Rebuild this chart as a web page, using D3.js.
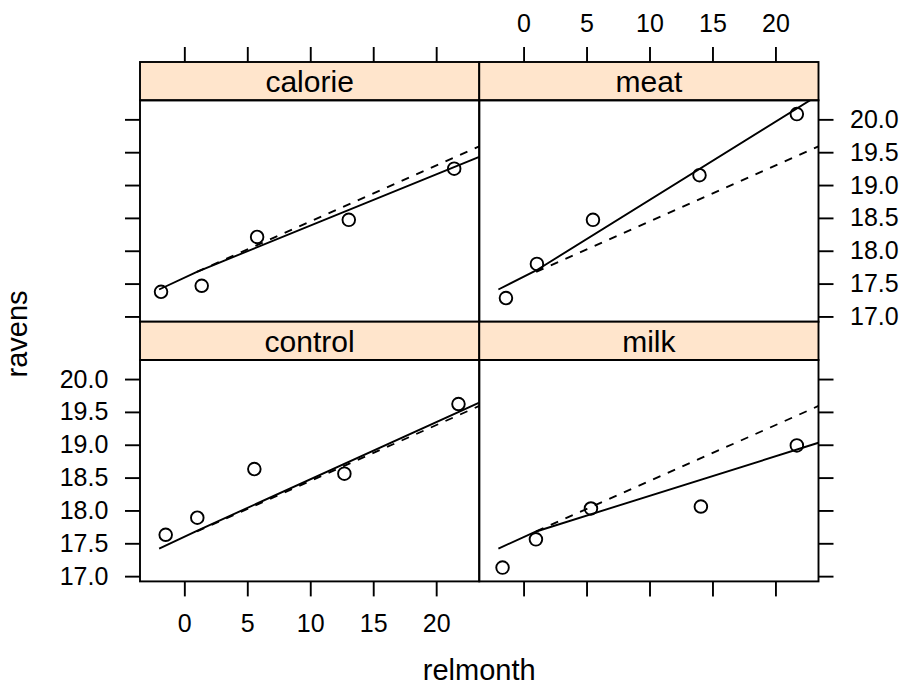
<!DOCTYPE html>
<html>
<head>
<meta charset="utf-8">
<script src="https://cdn.jsdelivr.net/npm/d3@7"></script>
<style>
  html, body { margin: 0; padding: 0; background: #fff; }
  svg text { font-family: "Liberation Sans", Arial, Helvetica, sans-serif; fill: #000; }
</style>
</head>
<body>
<svg id="chart" width="903" height="687"></svg>
<script>
// ---- data ----
const panelNames = ["calorie", "meat", "control", "milk"];
const xCalorie = [-1.85, 1.38, 5.78, 13.06, 21.43];
const yCalorie = [17.375, 17.467, 18.21, 18.47, 19.25];
const xMeat = [-1.40, 1.06, 5.51, 13.97, 21.70];
const yMeat = [17.28, 17.80, 18.47, 19.15, 20.08];
const xControl = [-1.48, 1.03, 5.56, 12.71, 21.77];
const yControl = [17.63, 17.89, 18.63, 18.56, 19.62];
const xMilk = [-1.67, 0.98, 5.35, 14.08, 21.70];
const yMilk = [17.13, 17.56, 18.03, 18.06, 18.99];

// fitted (solid) lines, knots in relmonth
const fitX = [-2.0, 1.0, 23.42];
const fitCalorie = [17.41, 17.68, 19.43];
const fitMeat = [17.41, 17.70, 20.37];
const fitControl = [17.42, 17.69, 19.64];
const fitMilk = [17.42, 17.68, 19.03];

// common reference (dashed) line
const refX = [1.0, 23.42];
const refY = [17.68, 19.59];

const xTicks = [0, 5, 10, 15, 20];
const yTicks = [17.0, 17.5, 18.0, 18.5, 19.0, 19.5, 20.0];
const xDomain = [-3.52, 23.42];
const yDomain = [16.92, 20.29];

const series = {
  calorie: { x: xCalorie, y: yCalorie, fit: fitCalorie },
  meat: { x: xMeat, y: yMeat, fit: fitMeat },
  control: { x: xControl, y: yControl, fit: fitControl },
  milk: { x: xMilk, y: yMilk, fit: fitMilk }
};

// ---- layout ----
const svg = d3.select("#chart");
const left = 140, panelW = 339.25;
const top0 = 62, stripH = 38.3, panelH = 221.4;
const tick = 15;
const tickFs = 25, stripFs = 30, titleFs = 29;
const lw = 1.9;

const x = d3.scaleLinear().domain(xDomain).range([0, panelW]);
const y = d3.scaleLinear().domain(yDomain).range([panelH, 0]);

const pos = { calorie: [0, 0], meat: [1, 0], control: [0, 1], milk: [1, 1] };

svg.append("defs").append("clipPath").attr("id", "pclip")
  .append("rect").attr("x", 0).attr("y", 0).attr("width", panelW).attr("height", panelH);

panelNames.forEach(name => {
  const [c, r] = pos[name];
  const px = left + c * panelW;
  const sy = top0 + r * (stripH + panelH);
  const py = sy + stripH;
  const s = series[name];

  // strip
  svg.append("rect").attr("x", px).attr("y", sy).attr("width", panelW).attr("height", stripH)
    .attr("fill", "#FFE5CC").attr("stroke", "#000").attr("stroke-width", lw);
  svg.append("text").attr("x", px + panelW / 2).attr("y", sy + 30.3)
    .attr("text-anchor", "middle").attr("font-size", stripFs).text(name);

  const g = svg.append("g").attr("transform", `translate(${px},${py})`);
  const inner = g.append("g").attr("clip-path", "url(#pclip)");

  // reference dashed line
  inner.append("path")
    .attr("d", d3.line().x(d => x(d[0])).y(d => y(d[1]))(refX.map((v, i) => [v, refY[i]])))
    .attr("fill", "none").attr("stroke", "#000").attr("stroke-width", lw)
    .attr("stroke-dasharray", "8,8");
  // fitted solid line
  inner.append("path")
    .attr("d", d3.line().x(d => x(d[0])).y(d => y(d[1]))(fitX.map((v, i) => [v, s.fit[i]])))
    .attr("fill", "none").attr("stroke", "#000").attr("stroke-width", lw);
  // points
  inner.selectAll("circle").data(s.x.map((v, i) => [v, s.y[i]])).enter().append("circle")
    .attr("cx", d => x(d[0])).attr("cy", d => y(d[1])).attr("r", 6.3)
    .attr("fill", "none").attr("stroke", "#000").attr("stroke-width", lw);

  // border
  g.append("rect").attr("x", 0).attr("y", 0).attr("width", panelW).attr("height", panelH)
    .attr("fill", "none").attr("stroke", "#000").attr("stroke-width", lw);

  const styleAxis = a => {
    a.select(".domain").remove();
    a.selectAll("line").attr("stroke", "#000").attr("stroke-width", lw);
    a.selectAll("text").attr("font-size", tickFs).attr("fill", "#000");
    a.attr("font-family", null);
  };
  if (c === 0) {
    const ax = d3.axisLeft(y).tickValues(yTicks).tickSize(tick).tickPadding(16.7)
      .tickFormat(r === 1 ? d3.format(".1f") : () => "");
    g.append("g").call(ax).call(styleAxis);
  } else {
    const ax = d3.axisRight(y).tickValues(yTicks).tickSize(tick).tickPadding(16.5)
      .tickFormat(r === 0 ? d3.format(".1f") : () => "");
    g.append("g").attr("transform", `translate(${panelW},0)`).call(ax).call(styleAxis);
  }
  if (r === 0) {
    const ax = d3.axisTop(x).tickValues(xTicks).tickSize(tick).tickPadding(15.3)
      .tickFormat(c === 1 ? d3.format("d") : () => "");
    g.append("g").attr("transform", `translate(0,${-stripH})`).call(ax).call(styleAxis);
  } else {
    const ax = d3.axisBottom(x).tickValues(xTicks).tickSize(tick).tickPadding(18.3)
      .tickFormat(c === 0 ? d3.format("d") : () => "");
    g.append("g").attr("transform", `translate(0,${panelH})`).call(ax).call(styleAxis);
  }
});

// axis titles
svg.append("text").attr("x", left + panelW).attr("y", 680)
  .attr("text-anchor", "middle").attr("font-size", titleFs).text("relmonth");
svg.append("text").attr("transform", "translate(27,334) rotate(-90)")
  .attr("text-anchor", "middle").attr("font-size", titleFs).text("ravens");
</script>
</body>
</html>
